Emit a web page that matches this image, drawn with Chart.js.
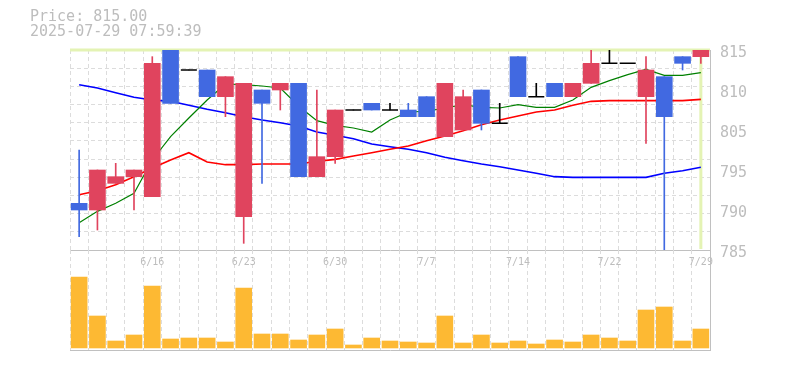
<!DOCTYPE html>
<html lang="ja">
<head>
  <meta charset="UTF-8">
  <title>Price chart</title>
  <script src="https://cdn.jsdelivr.net/npm/chart.js"></script>
  <style>
    body {
      margin: 0;
      background: #fff;
    }
    .wrap {
      position: relative;
      width: 785px;
      height: 370px;
    }
    .head {
      position: absolute;
      left: 30px;
      top: 9px;
      font: 15px/15px "DejaVu Sans Mono", monospace;
      color: #bdbdbd;
      white-space: pre;
    }
    #price { position: absolute; left: 0; top: 0; }
    #volume { position: absolute; left: 0; top: 250px; }
  </style>
</head>
<body>
  <div class="wrap">
    <canvas id="price" width="785" height="269"></canvas>
    <canvas id="volume" width="785" height="110"></canvas>
    <div class="head" id="head"></div>
  </div>
  <script>
    // trading days shown
    const dates = ['6/10','6/11','6/12','6/13','6/16','6/17','6/18','6/19','6/20',
      '6/23','6/24','6/25','6/26','6/27','6/30','7/1','7/2','7/3','7/4',
      '7/7','7/8','7/9','7/10','7/11','7/14','7/15','7/16','7/17','7/18',
      '7/22','7/23','7/24','7/25','7/28','7/29'];
    const dateTicks = ['6/16','6/23','6/30','7/7','7/14','7/22','7/29'];

    const opens  = [792,791,795,796,793,815,812,812,808,790,809,809,810,796,799,806,807,806,806,808,802,803,809,804,814,808,810,808,810,813,813,808,811,814,814];
    const highs  = [800,797,798,797,814,815,812,812,811,810,809,810,810,809,806,806,807,807,807,808,810,809,809,807,814,810,810,810,815,815,813,814,811,814,815];
    const lows   = [787,788,795,791,793,807,812,808,805,786,795,806,796,796,798,806,806,806,805,805,802,803,803,804,808,808,808,808,810,813,813,801,785,812,813];
    const closes = [791,797,796,797,813,807,812,808,811,810,807,810,796,799,806,806,806,806,805,805,810,808,804,804,808,808,808,810,813,813,813,812,805,813,815];

    const ma5  = [789.1,790.8,792.0,793.5,798.5,802.0,804.8,807.5,809.9,809.8,809.6,809.3,806.6,804.4,803.7,803.3,802.7,804.5,805.7,805.8,806.3,806.8,806.4,806.3,806.8,806.4,806.4,807.5,809.4,810.4,811.3,812.1,811.2,811.2,811.6];
    const ma25 = [793.3,793.9,794.8,796.0,797.3,798.5,799.6,798.2,797.8,797.8,797.9,797.9,797.9,798.3,798.6,799.1,799.6,800.1,800.6,801.4,802.1,802.9,803.8,804.5,805.1,805.7,806.0,806.7,807.3,807.4,807.4,807.4,807.4,807.4,807.6];
    const ma75 = [809.8,809.3,808.6,807.9,807.5,807.3,806.7,806.1,805.6,805.0,804.5,804.1,803.6,802.7,802.2,801.7,800.9,800.5,800.1,799.6,798.9,798.4,797.9,797.5,797.0,796.5,796.0,795.9,795.9,795.9,795.9,795.9,796.5,796.9,797.4];

    const volumes = [71,32,7,13,62,9,10,10,6,60,14,14,8,13,19,3,10,7,6,5,32,5,13,5,7,4,8,6,13,10,7,38,41,7,19];

    const priceTicks  = [815,809,803,797,791,785];
    const priceLabels = ['815','810','805','795','790','785'];
    const lastPrice = 815.00;
    const stamp = '2025-07-29 07:59:39';

    const UP = '#e0445e', DOWN = '#4169e1', DOJI = '#000000';
    const gridColor = '#dcdcdc', frameColor = '#c0c0c0', textColor = '#bdbdbd';
    const mono = '"DejaVu Sans Mono", monospace';

    document.getElementById('head').textContent =
      'Price: ' + lastPrice.toFixed(2) + '\n' + stamp;

    const candleColor = (i) => closes[i] > opens[i] ? UP : (closes[i] < opens[i] ? DOWN : DOJI);
    const gridLevels = [];
    for (let k = 0; k <= 11; k++) gridLevels.push(785 + k * 30 / 11);

    // light marker for the latest price / day
    const lastMarker = {
      id: 'lastMarker',
      beforeDatasetsDraw(chart) {
        const { ctx, chartArea, scales } = chart;
        const y = scales.y.getPixelForValue(lastPrice);
        const x = scales.x.getPixelForValue(dates.length - 1);
        ctx.save();
        ctx.strokeStyle = '#e4f3b4';
        ctx.lineWidth = 3;
        ctx.beginPath();
        ctx.moveTo(chartArea.left, y);
        ctx.lineTo(chartArea.right, y);
        ctx.moveTo(x, y);
        ctx.lineTo(x, chartArea.bottom - 1);
        ctx.stroke();
        ctx.restore();
      }
    };

    // date labels sit inside the top of the volume pane
    const dateLabels = {
      id: 'dateLabels',
      afterDatasetsDraw(chart) {
        const { ctx, chartArea, scales } = chart;
        ctx.save();
        ctx.fillStyle = textColor;
        ctx.font = '10px ' + mono;
        ctx.textAlign = 'center';
        ctx.textBaseline = 'middle';
        dateTicks.forEach(d => {
          ctx.fillText(d, scales.x.getPixelForValue(dates.indexOf(d)), chartArea.top + 12);
        });
        ctx.restore();
      }
    };

    new Chart(document.getElementById('price'), {
      type: 'bar',
      data: {
        labels: dates,
        datasets: [
          { type: 'line', data: ma75, borderColor: '#0000ff', borderWidth: 1.6, pointRadius: 0, tension: 0, order: 5 },
          { type: 'line', data: ma25, borderColor: '#ff0000', borderWidth: 1.6, pointRadius: 0, tension: 0, order: 4 },
          { type: 'line', data: ma5, borderColor: '#008000', borderWidth: 1.2, pointRadius: 0, tension: 0, order: 3 },
          {
            data: lows.map((l, i) => [l, highs[i]]),
            backgroundColor: dates.map((d, i) => candleColor(i)),
            barThickness: 1, grouped: false, order: 2
          },
          {
            data: opens.map((o, i) => o === closes[i] ? null : [o, closes[i]]),
            backgroundColor: dates.map((d, i) => candleColor(i)),
            barThickness: 16, grouped: false, order: 1
          },
          {
            type: 'line',
            data: opens.map((o, i) => o === closes[i] ? o : null),
            showLine: false, pointStyle: 'line', pointRadius: 8,
            borderColor: DOJI, borderWidth: 1.5, order: 0
          }
        ]
      },
      options: {
        responsive: false,
        animation: false,
        layout: { padding: { top: 50, left: 70, right: 0, bottom: 0 } },
        plugins: { legend: { display: false }, tooltip: { enabled: false } },
        scales: {
          x: {
            offset: true,
            grid: { offset: true, color: gridColor, drawTicks: false },
            border: { display: true, color: frameColor, dash: [4, 3] },
            ticks: { display: false },
            afterFit: s => { s.height = 0; }
          },
          y: {
            position: 'right',
            min: 785, max: 815,
            grid: { display: false, drawTicks: false },
            border: { display: true, color: frameColor },
            afterBuildTicks: s => { s.ticks = priceTicks.map(v => ({ value: v })); },
            ticks: {
              color: textColor, padding: 10, labelOffset: 3,
              font: { family: mono, size: 15 },
              callback: (v, i) => priceLabels[i]
            },
            afterFit: s => { s.width = 75; }
          },
          yg: {
            position: 'left',
            min: 785, max: 815,
            afterBuildTicks: s => { s.ticks = gridLevels.map(v => ({ value: v })); },
            grid: { color: gridColor, drawTicks: false },
            border: { display: false, dash: [4, 3] },
            ticks: { display: false },
            afterFit: s => { s.width = 0; }
          }
        }
      },
      plugins: [lastMarker]
    });

    new Chart(document.getElementById('volume'), {
      type: 'bar',
      data: {
        labels: dates,
        datasets: [{ data: volumes, backgroundColor: '#fdb933', barThickness: 16 }]
      },
      options: {
        responsive: false,
        animation: false,
        layout: { padding: { top: 0, left: 70, right: 0, bottom: 10 } },
        plugins: { legend: { display: false }, tooltip: { enabled: false } },
        scales: {
          x: {
            offset: true,
            grid: { offset: true, color: gridColor, drawTicks: false },
            border: { display: true, color: frameColor, dash: [4, 3] },
            ticks: { display: false },
            afterFit: s => { s.height = 0; }
          },
          y: {
            position: 'right',
            min: -2, max: 98,
            grid: { display: false, drawTicks: false },
            border: { display: true, color: frameColor },
            ticks: { display: false },
            afterFit: s => { s.width = 75; }
          }
        }
      },
      plugins: [dateLabels]
    });
  </script>
</body>
</html>
